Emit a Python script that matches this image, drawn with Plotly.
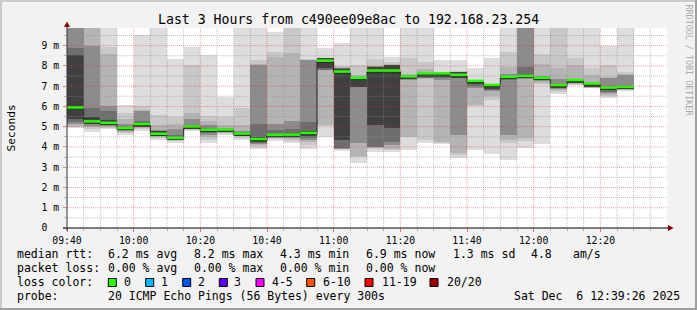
import plotly.graph_objects as go
import pandas as pd

# ---------------- data (milliseconds) ----------------
slot_start = pd.date_range("2025-12-06 09:40", periods=34, freq="5min")
x_tick_times = pd.date_range("2025-12-06 09:40", "2025-12-06 12:20", freq="20min")

median_ms = [5.89, 5.20, 5.13, 4.87, 5.07, 4.59, 4.39, 4.95, 4.79, 4.80,
             4.60, 4.33, 4.54, 4.55, 4.63, 8.20, 7.66, 7.35, 7.71, 7.71,
             7.42, 7.57, 7.57, 7.50, 7.20, 7.00, 7.40, 7.44, 7.35, 6.99,
             7.24, 7.07, 6.87, 6.90]

# smoke bands, outermost (lightest) to innermost (darkest)
l1_lo = [4.92, 4.75, 4.88, 4.60, 4.80, 4.35, 4.20, 4.80, 4.20, 4.60,
         4.35, 3.90, 4.30, 4.20, 3.90, 4.50, 3.80, 3.20, 3.75, 3.77,
         3.85, 4.18, 4.13, 3.44, 3.85, 3.65, 3.36, 3.93, 4.13, 6.60,
         7.05, 6.90, 6.43, 6.78]
l1_hi = [10.4, 10.4, 10.4, 6.07, 9.52, 10.4, 8.35, 8.95, 8.53, 6.46,
         10.4, 10.4, 9.69, 10.4, 10.4, 8.86, 9.11, 10.4, 10.4, 8.45,
         10.4, 10.4, 8.30, 8.30, 7.88, 8.37, 10.4, 10.4, 10.4, 10.4,
         10.4, 10.4, 8.99, 10.4]
l2_lo = [5.00, 4.90, 4.95, 4.70, 4.88, 4.45, 4.28, 4.85, 4.35, 4.65,
         4.45, 4.00, 4.38, 4.30, 4.10, 5.05, 3.88, 3.52, 3.88, 3.85,
         4.48, 4.34, 4.20, 3.60, 6.00, 6.30, 4.20, 4.30, 7.10, 6.70,
         7.08, 6.92, 6.50, 6.80]
l2_hi = [10.4, 10.4, 8.95, 5.70, 6.00, 5.58, 5.50, 8.05, 5.55, 5.50,
         5.90, 8.30, 8.70, 10.4, 8.32, 8.41, 8.00, 8.04, 8.35, 8.20,
         8.37, 8.20, 7.71, 7.75, 7.30, 7.10, 8.70, 10.4, 8.60, 10.4,
         8.40, 7.88, 8.04, 7.70]
l3_lo = [5.05, 4.98, 5.00, 4.75, 4.93, 4.50, 4.32, 4.88, 4.50, 4.70,
         4.52, 4.10, 4.42, 4.38, 4.25, 5.10, 3.90, 3.53, 3.93, 3.90,
         4.50, 7.37, 4.26, 3.68, 6.07, 6.50, 4.35, 4.43, 7.15, 6.80,
         7.10, 6.93, 6.55, 6.82]
l3_hi = [10.4, 10.4, 8.60, 5.40, 5.80, 5.08, 5.15, 5.70, 5.30, 5.10,
         5.08, 8.10, 8.45, 8.62, 8.30, 8.40, 7.95, 7.55, 8.00, 8.10,
         7.60, 7.85, 7.65, 7.72, 7.28, 7.05, 7.96, 10.4, 8.10, 7.90,
         8.05, 7.55, 7.45, 7.58]
l4_lo = [5.15, 5.05, 5.05, 4.80, 4.98, 4.53, 4.35, 4.90, 4.60, 4.72,
         4.55, 4.15, 4.46, 4.45, 4.35, 7.78, 3.92, 4.18, 3.98, 4.10,
         7.30, 7.38, 7.30, 4.59, 6.90, 6.75, 4.60, 7.35, 7.25, 6.85,
         7.15, 6.94, 6.65, 6.84]
l4_hi = [10.4, 9.00, 6.00, 5.15, 5.75, 4.85, 4.90, 5.40, 5.10, 4.95,
         4.80, 8.05, 5.15, 5.30, 8.29, 8.39, 7.90, 7.45, 7.98, 8.06,
         7.55, 7.63, 7.62, 7.70, 7.25, 7.03, 7.60, 10.4, 7.50, 7.35,
         7.35, 7.14, 7.38, 7.55]
l5_lo = [5.25, 5.12, 5.08, 4.82, 5.00, 4.55, 4.36, 4.92, 4.70, 4.74,
         4.57, 4.20, 4.48, 4.48, 4.45, 7.80, 3.93, 6.95, 4.02, 4.26,
         7.35, 7.40, 7.40, 7.38, 7.00, 6.80, 7.30, 7.38, 7.30, 6.90,
         7.18, 6.95, 6.72, 6.86]
l5_hi = [8.90, 5.90, 5.75, 5.00, 5.30, 4.80, 4.60, 5.10, 4.95, 4.88,
         4.72, 5.15, 4.85, 4.90, 5.25, 8.38, 7.88, 7.42, 7.97, 8.05,
         7.50, 7.62, 7.60, 7.70, 7.23, 7.02, 7.50, 7.95, 7.45, 7.10,
         7.30, 7.12, 6.98, 7.00]
l6_lo = [5.40, 5.15, 5.10, 4.84, 5.03, 4.56, 4.37, 4.93, 4.74, 4.76,
         4.58, 4.26, 4.50, 4.50, 4.55, 7.88, 4.35, 6.97, 5.08, 4.92,
         7.38, 7.45, 7.45, 7.42, 7.10, 6.85, 7.35, 7.40, 7.32, 6.93,
         7.20, 6.96, 6.80, 6.87]
l6_hi = [8.55, 5.50, 5.35, 4.93, 5.12, 4.78, 4.50, 5.00, 4.88, 4.83,
         4.66, 4.50, 4.65, 4.70, 4.80, 8.37, 7.85, 7.40, 7.95, 8.04,
         7.47, 7.60, 7.60, 7.68, 7.22, 7.00, 7.45, 7.50, 7.40, 7.02,
         7.28, 7.10, 6.95, 6.96]

band_colors = ["#dddddd", "#c8c8c8", "#b4b4b4", "#8c8c8c", "#6e6e6e", "#404040"]

y_tick_vals = [0, 1, 2, 3, 4, 5, 6, 7, 8, 9]
y_tick_text = ["0\u00a0\u00a0", "1 m", "2 m", "3 m", "4 m", "5 m", "6 m", "7 m", "8 m", "9 m"]

loss_labels = ["0", "1", "2", "3", "4-5", "6-10", "11-19", "20/20"]
loss_colors = ["#26ff00", "#00b8ff", "#0059ff", "#5e00ff", "#ff00ff", "#ff5500", "#ff0000", "#a10000"]

title_text = "Last 3 Hours from c490ee09e8ac to 192.168.23.254"

# ---------------- geometry helpers ----------------
W, H = 697, 310
L, R, T, B = 67, 30, 28, 82
PW, PH = W - L - R, H - T - B


def px(x):
    return (x - L) / PW


def py(y):
    return (H - B - y) / PH


MONO = "DejaVu Sans Mono"

fig = go.Figure()

step = pd.Timedelta(minutes=5)
centers = slot_start + step / 2
bands = [(l1_lo, l1_hi), (l2_lo, l2_hi), (l3_lo, l3_hi),
         (l4_lo, l4_hi), (l5_lo, l5_hi), (l6_lo, l6_hi)]
for (lo, hi), col in zip(bands, band_colors):
    fig.add_trace(go.Bar(
        x=centers, base=lo, y=[h - l for l, h in zip(lo, hi)],
        width=300000, marker=dict(color=col, line=dict(width=0)),
        hoverinfo="skip"))

# median black step line
step_x = list(slot_start) + [slot_start[-1] + step]
step_y = list(median_ms) + [median_ms[-1]]
fig.add_trace(go.Scatter(x=step_x, y=step_y, mode="lines",
                         line=dict(color="#101010", width=1, shape="hv"),
                         hoverinfo="skip"))

# loss-coloured median bars
gx, gy = [], []
for s, m in zip(slot_start, median_ms):
    gx += [s, s + step, None]
    gy += [m + 0.06, m + 0.06, None]
fig.add_trace(go.Scatter(x=gx, y=gy, mode="lines",
                         line=dict(color="#26ff00", width=2.6),
                         hoverinfo="skip"))

shapes = []
# grid (drawn above the smoke, like rrdtool)
minor_grid = "rgba(140,140,140,0.55)"
major_grid = "rgba(235,40,40,0.45)"
for i in range(1, 20):
    v = i * 0.5
    shapes.append(dict(type="line", xref="paper", yref="y", x0=0, x1=1, y0=v, y1=v,
                       line=dict(color=major_grid if i % 2 == 0 else minor_grid,
                                 width=1, dash="1px,1px"), layer="above"))
for k in range(1, 36):
    t = slot_start[0] + step * k
    major = (k % 4 == 0)
    shapes.append(dict(type="line", xref="x", yref="paper", x0=t, x1=t, y0=0, y1=1,
                       line=dict(color=major_grid if major else minor_grid,
                                 width=1, dash="1px,1px"), layer="above"))

# axes lines and arrows
shapes.append(dict(type="line", xref="paper", yref="paper", x0=px(63), x1=px(669),
                   y0=py(228), y1=py(228), line=dict(color="#000000", width=1), layer="above"))
shapes.append(dict(type="path", xref="paper", yref="paper",
                   path=f"M {px(668)},{py(225)} L {px(673.5)},{py(228)} L {px(668)},{py(231)} Z",
                   fillcolor="#8b0000", line=dict(width=0), layer="above"))
shapes.append(dict(type="line", xref="paper", yref="paper", x0=px(67), x1=px(67),
                   y0=py(231), y1=py(26), line=dict(color="#303030", width=1), layer="above"))
shapes.append(dict(type="path", xref="paper", yref="paper",
                   path=f"M {px(64)},{py(27)} L {px(67)},{py(21.5)} L {px(70)},{py(27)} Z",
                   fillcolor="#8b0000", line=dict(width=0), layer="above"))

# 3D frame
for x0, y0, x1, y1, c in [(0, 0, W, 2, "#cbcbcb"), (0, 0, 2, H, "#cbcbcb"),
                          (W - 2, 0, W, H, "#9f9f9f"), (0, H - 2, W, H, "#9f9f9f")]:
    shapes.append(dict(type="rect", xref="paper", yref="paper",
                       x0=px(x0), x1=px(x1), y0=py(y1), y1=py(y0),
                       fillcolor=c, line=dict(width=0), layer="below"))

# loss colour boxes
box_x = [108.3, 145.7, 182.7, 219.3, 256, 306.7, 365, 430]
for bx, c in zip(box_x, loss_colors):
    shapes.append(dict(type="rect", xref="paper", yref="paper",
                       x0=px(bx), x1=px(bx + 8), y0=py(286.5), y1=py(278.5),
                       fillcolor=c, line=dict(color="#000000", width=1), layer="above"))

ann = []


def text(x, y, s, size=11.5, color="#000000", anchor="left", angle=0):
    ann.append(dict(x=px(x), y=py(y), xref="paper", yref="paper", text=s,
                    showarrow=False, xanchor=anchor, yanchor="middle",
                    borderpad=0, textangle=angle,
                    font=dict(family=MONO, size=size, color=color)))


text(W / 2, 19, title_text, size=13.2, anchor="center")
text(10.5, 128, "Seconds", size=11.2, anchor="center", angle=-90)
text(688, 60.5, "RRDTOOL / TOBI OETIKER", size=8.4, color="#a9a9a9", anchor="center", angle=90)

row1 = [(16, "median rtt:"), (107.3, "6.2 ms avg"), (193.3, "8.2 ms max"),
        (279.3, "4.3 ms min"), (365, "6.9 ms now"), (451.7, "1.3 ms sd"),
        (530, "4.8"), (572.3, "am/s")]
row2 = [(16, "packet loss:"), (107.3, "0.00 % avg"), (193.3, "0.00 % max"),
        (279.3, "0.00 % min"), (365, "0.00 % now")]
row4 = [(16, "probe:"), (107.3, "20 ICMP Echo Pings (56 Bytes) every 300s"),
        (513.3, "Sat Dec\u00a0\u00a06 12:39:26 2025")]
for x, s in row1:
    text(x, 254, s)
for x, s in row2:
    text(x, 268, s)
text(16, 282, "loss color:")
label_x = [123.3, 160, 197.3, 233.3, 270.7, 321.7, 380.7, 445.7]
for x, s in zip(label_x, loss_labels):
    text(x, 282, s)
for x, s in row4:
    text(x, 296, s)

fig.update_layout(
    width=W, height=H, margin=dict(l=L, r=R, t=T, b=B),
    paper_bgcolor="#f2f2f2", plot_bgcolor="#ffffff",
    showlegend=False, barmode="overlay", bargap=0,
    shapes=shapes, annotations=ann,
)
minor_x = [t for t in pd.date_range("2025-12-06 09:45", "2025-12-06 12:35", freq="5min")
           if t not in set(x_tick_times)]
fig.update_xaxes(
    type="date", range=["2025-12-06 09:40", "2025-12-06 12:40"],
    tickmode="array", tickvals=list(x_tick_times),
    ticktext=[t.strftime("%H:%M") for t in x_tick_times],
    showgrid=False, zeroline=False, showline=False,
    ticks="outside", ticklen=3, tickcolor="rgba(235,40,40,0.6)",
    tickfont=dict(family=MONO, size=9.75, color="#000000"),
    minor=dict(tickmode="array", tickvals=minor_x, ticks="outside", ticklen=2,
               tickcolor="rgba(140,140,140,0.6)", showgrid=False),
)
fig.update_yaxes(
    range=[0, 9.87], tickmode="array", tickvals=y_tick_vals, ticktext=y_tick_text,
    showgrid=False, zeroline=False, showline=False,
    ticks="outside", ticklen=3, tickcolor="rgba(235,40,40,0.6)",
    tickfont=dict(family=MONO, size=9.75, color="#000000"),
    ticklabelstandoff=2,
    minor=dict(tickmode="array", tickvals=[v + 0.5 for v in y_tick_vals],
               ticks="outside", ticklen=2, tickcolor="rgba(140,140,140,0.6)", showgrid=False),
)

fig.write_html("out.html")
